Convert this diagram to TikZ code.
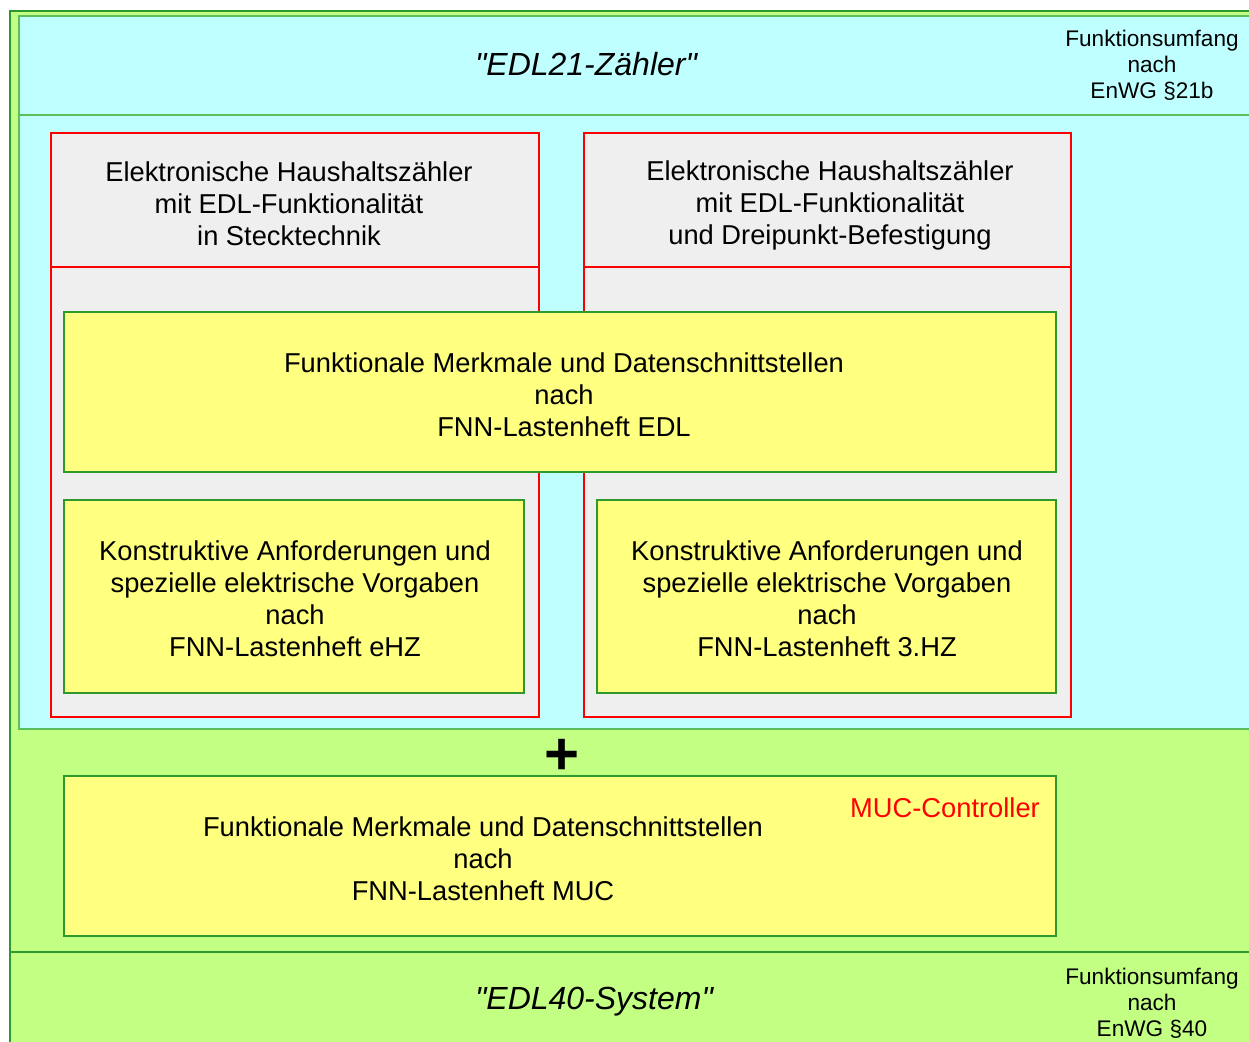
\documentclass[tikz,border=0pt]{standalone}
\usepackage{fontspec}
\setmainfont{Liberation Sans}
\definecolor{cyanbg}{HTML}{C0FFFF}
\definecolor{greenbg}{HTML}{C2FF82}
\definecolor{yellowbg}{HTML}{FFFF80}
\definecolor{graybg}{HTML}{EFEFEF}
\definecolor{darkgreen}{HTML}{2E9A2E}
\definecolor{midgreen}{HTML}{5CBF5C}
\definecolor{redline}{HTML}{FF0000}
\newcommand{\sq}{\XeTeXglyph\XeTeXcharglyph"22\relax}
\tikzset{
  box/.style={inner sep=0pt, outer sep=0pt, anchor=north west},
  redbox/.style={box, draw=redline, line width=2pt, fill=graybg},
  yelbox/.style={box, draw=darkgreen, line width=1.3pt, fill=yellowbg},
  body/.style={align=center, inner sep=0pt, font=\fontsize{27.3}{32}\selectfont},
  side/.style={align=center, inner sep=0pt, font=\fontsize{22.6}{26}\selectfont},
  titletext/.style={inner sep=0pt, font=\fontsize{32}{36}\selectfont\itshape},
}
\begin{document}
\begin{tikzpicture}[x=1pt,y=-1pt]
\useasboundingbox (0,0) rectangle (1249,1041);
\fill[white] (0,0) rectangle (1249,1041);
\clip (0,0) rectangle (1249,1041);
% outer green area
\node[box, draw=darkgreen, line width=1.5pt, fill=greenbg, minimum width=1300pt, minimum height=1100pt] (outer) at (10,11) {};
% cyan area
\node[box, draw=midgreen, line width=1.5pt, fill=cyanbg, minimum width=1300pt, minimum height=713pt] (cyan) at (19,16) {};
\coordinate (cl) at (19,115);
\coordinate (cr) at (1300,115);
\draw[midgreen, line width=1.5pt] (cl) -- (cr);
% bottom separator
\coordinate (gl) at (10,952);
\coordinate (gr) at (1300,952);
\draw[darkgreen, line width=1.5pt] (gl) -- (gr);
% red boxes
\node[redbox, minimum width=488pt, minimum height=584pt] (rl) at (51,133) {};
\node[redbox, minimum width=487pt, minimum height=584pt] (rr) at (584,133) {};
\coordinate (rlh1) at (51,267);
\coordinate (rlh2) at (539,267);
\coordinate (rrh1) at (584,267);
\coordinate (rrh2) at (1071,267);
\draw[redline, line width=2pt] (rlh1) -- (rlh2);
\draw[redline, line width=2pt] (rrh1) -- (rrh2);
% yellow boxes
\node[yelbox, minimum width=992pt, minimum height=160pt] (fnn) at (64,312) {};
\node[yelbox, minimum width=460pt, minimum height=193pt] (ehz) at (64,500) {};
\node[yelbox, minimum width=459pt, minimum height=193pt] (dhz) at (597,500) {};
\node[yelbox, minimum width=992pt, minimum height=160pt] (muc) at (64,776) {};
% texts
\node[titletext] (t21) at (586,64) {\sq EDL21-Zähler\sq};
\node[side] (s21) at (1152,65) {Funktionsumfang\\nach\\EnWG §21b};
\node[body] (hl) at (289,204) {Elektronische Haushaltszähler\\mit EDL-Funktionalität\\in Stecktechnik};
\node[body] (hr) at (830,205) {Elektronische Haushaltszähler\\mit EDL-Funktionalität\\und Dreipunkt-Befestigung};
\node[body] (tf) at (564,395) {Funktionale Merkmale und Datenschnittstellen\\nach\\FNN-Lastenheft EDL};
\node[body] (te) at (295,599) {Konstruktive Anforderungen und\\spezielle elektrische Vorgaben\\nach\\FNN-Lastenheft eHZ};
\node[body] (td) at (827,599) {Konstruktive Anforderungen und\\spezielle elektrische Vorgaben\\nach\\FNN-Lastenheft 3.HZ};
\node[inner sep=0pt, font=\fontsize{60}{60}\selectfont\bfseries] (plus) at (562,757) {+};
\node[body] (tm) at (483,859) {Funktionale Merkmale und Datenschnittstellen\\nach\\FNN-Lastenheft MUC};
\node[body, text=redline, anchor=east] (mc) at (1040,808) {MUC-Controller};
\node[titletext] (t40) at (594,1002) {\sq EDL40-System\sq};
\node[side] (s40) at (1152,1003) {Funktionsumfang\\nach\\EnWG §40};
\end{tikzpicture}
\end{document}
